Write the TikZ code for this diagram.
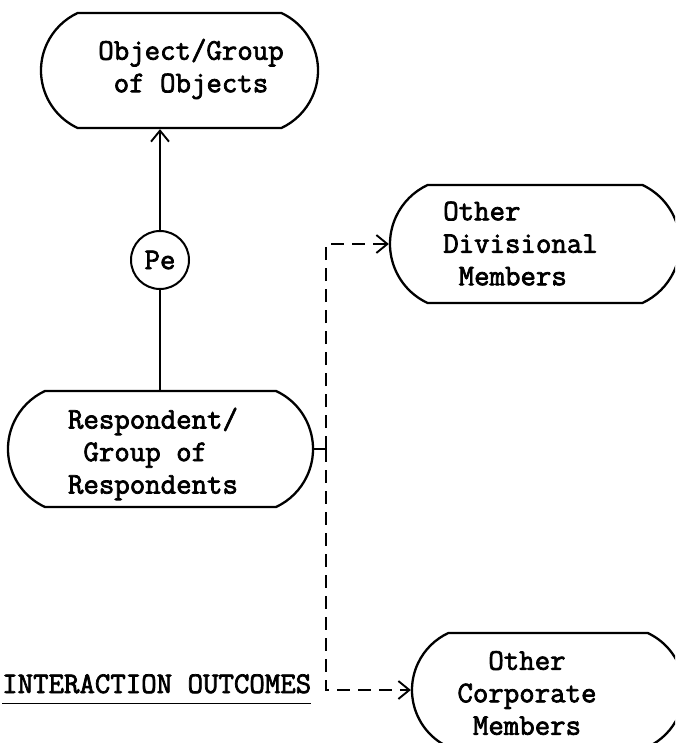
\documentclass[tikz,border=0pt]{standalone}
\usepackage{fontspec}
\setmonofont[FakeBold=2.4]{Latin Modern Mono}
\usetikzlibrary{shapes.misc,arrows.meta}

\tikzset{
  termbox/.style={rounded rectangle, rounded rectangle arc length=130,
    draw, line width=2.3pt, inner sep=0pt},
  boxtext/.style={font=\ttfamily\fontsize{30}{32.5}\selectfont, inner sep=0pt},
  link/.style={line width=1.9pt},
  openarrow/.style={-{Straight Barb[length=11pt,width=18pt]}},
  dashlink/.style={link, dash pattern=on 13pt off 8pt},
}

\begin{document}
\begin{tikzpicture}[x=1pt,y=-1pt]
  \useasboundingbox (0,0) rectangle (675,743);
  \clip (0,0) rectangle (675,743);

  % terminal-shaped boxes
  \node[termbox, minimum width=277pt, minimum height=115pt] (obj) at (179.5,70.5) {};
  \node[boxtext, align=center] (objtext) at (191,69) {Object/Group\\of Objects};

  \node[circle, draw, line width=2pt, boxtext, minimum size=58pt] (pe) at (160,260) {Pe};

  \node[termbox, minimum width=305pt, minimum height=116pt] (resp) at (160.5,449) {};
  \node[boxtext, align=left] (resptext) at (153,454)
    {Respondent/\\\hphantom{G}Group of\\Respondents};

  \node[termbox, minimum width=290pt, minimum height=118pt] (div) at (535,244) {};
  \node[boxtext, align=left] (divtext) at (520.5,243.5)
    {Other\\Divisional\\\hphantom{M}Members};

  \node[termbox, minimum width=272pt, minimum height=114pt] (corp) at (548,690) {};
  \node[boxtext, align=center] (corptext) at (527,693) {Other\\Corporate\\Members};

  % heading with underline
  \node[boxtext, anchor=base west, inner ysep=10pt] (outcomes) at (2,693) {INTERACTION OUTCOMES};
  \draw[line width=1.8pt] (outcomes.south west) -- (outcomes.south east);

  % connectors
  \coordinate (spine) at (326,452);
  \draw[link, openarrow] (pe.north) -- (pe.north |- obj.south);
  \draw[link] (pe.south) -- (pe.south |- resp.north);
  \draw[link] (resp.east) -- (resp.east -| spine);
  \draw[dashlink, openarrow] (resp.east -| spine) |- (div.west);
  \draw[dashlink, openarrow] (resp.east -| spine) |- (corp.west);
\end{tikzpicture}
\end{document}
